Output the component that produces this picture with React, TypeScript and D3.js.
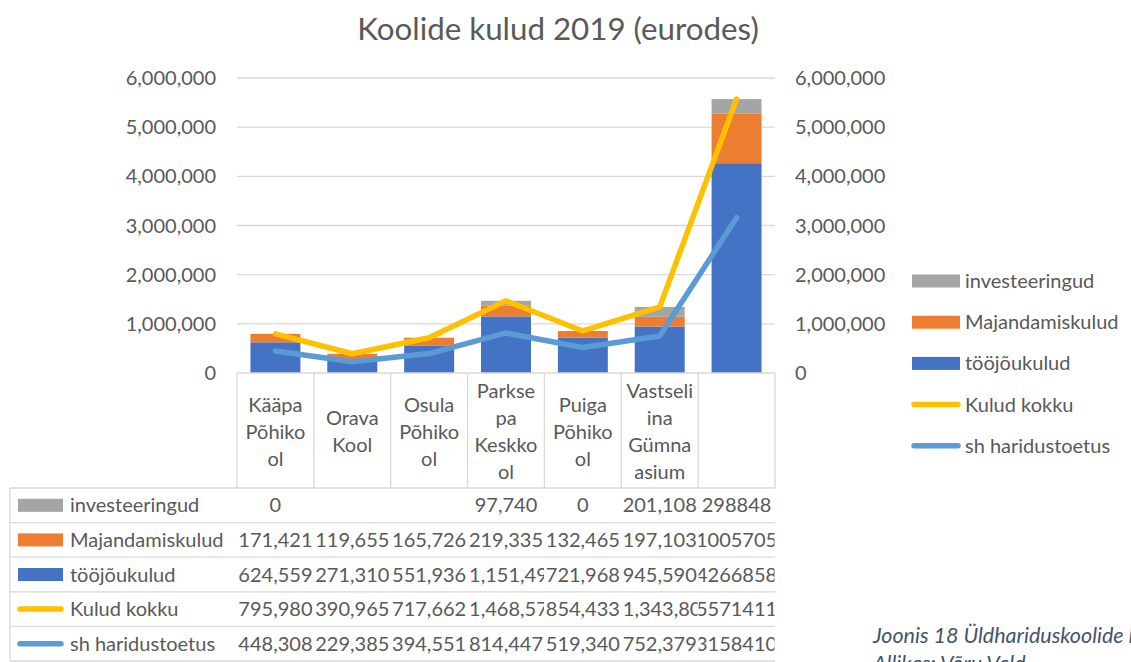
import React from 'react';
import * as d3 from 'd3';

const title = 'Koolide kulud 2019 (eurodes)';
const categories: string[][] = [
  ['Kääpa', 'Põhiko', 'ol'],
  ['Orava', 'Kool'],
  ['Osula', 'Põhiko', 'ol'],
  ['Parkse', 'pa', 'Keskko', 'ol'],
  ['Puiga', 'Põhiko', 'ol'],
  ['Vastseli', 'ina', 'Gümna', 'asium'],
  [],
];
const investeeringud: (number | null)[] = [0, null, null, 97740, 0, 201108, 298848];
const majandamiskulud: (number | null)[] = [171421, 119655, 165726, 219335, 132465, 197103, 1005705];
const toojoukulud: (number | null)[] = [624559, 271310, 551936, 1151490, 721968, 945590, 4266858];
const kuludKokku: (number | null)[] = [795980, 390965, 717662, 1468570, 854433, 1343800, 5571411];
const haridustoetus: (number | null)[] = [448308, 229385, 394551, 814447, 519340, 752379, 3158410];
const useThousandsSep = [true, true, true, true, true, true, false];
const yTicks = [0, 1000000, 2000000, 3000000, 4000000, 5000000, 6000000];
const captionLines = ['Joonis 18 Üldhariduskoolide kulud 2019', 'Allikas: Võru Vald'];

const series = [
  { name: 'investeeringud', values: investeeringud, color: '#a5a5a5', kind: 'bar' },
  { name: 'Majandamiskulud', values: majandamiskulud, color: '#ed7d31', kind: 'bar' },
  { name: 'tööjõukulud', values: toojoukulud, color: '#4472c4', kind: 'bar' },
  { name: 'Kulud kokku', values: kuludKokku, color: '#ffc000', kind: 'line' },
  { name: 'sh haridustoetus', values: haridustoetus, color: '#5b9bd5', kind: 'line' },
];

const W = 1131;
const H = 662;
const FONT = 'Lato, "Open Sans", sans-serif';
const TEXT = '#595959';
const GRID = '#d9d9d9';

export default function App() {
  const plotL = 237;
  const plotR = 775;
  const y0 = 373;
  const yTop = 78;
  const idx = categories.map((_, i) => i);
  const x = d3.scaleBand<number>().domain(idx).range([plotL, plotR]).padding(0);
  const y = d3.scaleLinear().domain([0, 6000000]).range([y0, yTop]);
  const step = x.bandwidth();
  const barW = step * 0.65;
  const cx = (i: number) => (x(i) as number) + step / 2;

  // stacked bars: bottom to top tööjõukulud, Majandamiskulud, investeeringud
  const stackOrder = [2, 1, 0];
  const stackKeys = stackOrder.map((k) => series[k].name);
  const rows = idx.map((i) => {
    const r: any = {};
    stackOrder.forEach((k) => (r[series[k].name] = series[k].values[i] ?? 0));
    return r;
  });
  const stacked = d3.stack<any>().keys(stackKeys)(rows);

  const lineGen = d3
    .line<number | null>()
    .defined((d) => d != null)
    .x((_, i) => cx(i))
    .y((d) => y(d as number));

  const fmtSep = d3.format(',');
  const fmt = (v: number | null, i: number) =>
    v == null ? '' : useThousandsSep[i] ? fmtSep(v) : String(v);

  // table geometry
  const tableL = 10;
  const headerBottom = 488;
  const rowH = 34.6;
  const tableRows = series.length;

  const legendX = 912;
  const legendY0 = 281;
  const legendStep = 41.2;

  return (
    <svg
      width={W}
      height={H}
      style={{ position: 'absolute', left: 0, top: 0, background: '#fff' }}
      fontFamily={FONT}
    >
      <defs>
        {idx.map((i) => (
          <clipPath key={i} id={`cell-clip-${i}`}>
            <rect x={(x(i) as number) + 0.5} y={headerBottom} width={step - 1} height={rowH * tableRows} />
          </clipPath>
        ))}
      </defs>
      <rect x={0} y={0} width={W} height={H} fill="#fff" />
      <text x={558} y={40} textAnchor="middle" fontSize={31.3} fill={TEXT}>
        {title}
      </text>

      {/* gridlines */}
      {yTicks.slice(1).map((t) => (
        <line key={t} x1={plotL} x2={plotR} y1={y(t)} y2={y(t)} stroke={GRID} strokeWidth={1.3} />
      ))}

      {/* left & right axis labels */}
      {yTicks.map((t) => (
        <g key={'l' + t}>
          <text x={216} y={y(t)} dy="0.35em" textAnchor="end" fontSize={20} fill={TEXT}>
            {fmtSep(t)}
          </text>
          <text x={795} y={y(t)} dy="0.35em" textAnchor="start" fontSize={20} fill={TEXT}>
            {fmtSep(t)}
          </text>
        </g>
      ))}

      {/* bars */}
      {stacked.map((layer, li) => {
        const s = series[stackOrder[li]];
        return (
          <g key={s.name} fill={s.color}>
            {layer.map((d, i) =>
              d[1] - d[0] > 0 ? (
                <rect key={i} x={cx(i) - barW / 2} width={barW} y={y(d[1])} height={y(d[0]) - y(d[1])} />
              ) : null
            )}
          </g>
        );
      })}

      {/* lines */}
      {series
        .filter((s) => s.kind === 'line')
        .map((s) => (
          <path
            key={s.name}
            d={lineGen(s.values) || ''}
            fill="none"
            stroke={s.color}
            strokeWidth={5.5}
            strokeLinecap="round"
            strokeLinejoin="round"
          />
        ))}

      {/* header (category) area */}
      <line x1={plotL} x2={plotR} y1={y0} y2={y0} stroke={GRID} strokeWidth={1.3} />
      {d3.range(categories.length + 1).map((k) => (
        <line
          key={'hv' + k}
          x1={plotL + k * step}
          x2={plotL + k * step}
          y1={y0}
          y2={headerBottom}
          stroke={GRID}
          strokeWidth={1.3}
        />
      ))}
      {categories.map((lines, i) => {
        const lh = 27;
        const mid = 431.5;
        const start = mid - ((lines.length - 1) * lh) / 2;
        return (
          <text key={'c' + i} textAnchor="middle" fontSize={20} fill={TEXT}>
            {lines.map((ln, j) => (
              <tspan key={j} x={cx(i)} y={start + j * lh} dy="0.35em">
                {ln}
              </tspan>
            ))}
          </text>
        );
      })}

      {/* data table */}
      {d3.range(tableRows + 1).map((r) => (
        <line
          key={'th' + r}
          x1={tableL}
          x2={plotR}
          y1={headerBottom + r * rowH}
          y2={headerBottom + r * rowH}
          stroke={GRID}
          strokeWidth={1.3}
        />
      ))}
      <line x1={tableL} x2={tableL} y1={headerBottom} y2={headerBottom + tableRows * rowH} stroke={GRID} strokeWidth={1.3} />
      {series.map((s, r) => {
        const cy = headerBottom + r * rowH + rowH / 2;
        return (
          <g key={'row' + s.name}>
            {s.kind === 'bar' ? (
              <rect x={18} y={cy - 6.5} width={45} height={13} fill={s.color} />
            ) : (
              <line x1={20} x2={61} y1={cy} y2={cy} stroke={s.color} strokeWidth={5.5} strokeLinecap="round" />
            )}
            <text x={70} y={cy} dy="0.35em" fontSize={20} fill={TEXT}>
              {s.name}
            </text>
            {s.values.map((v, i) => {
              const txt = fmt(v, i);
              const long = txt.length > 7;
              return (
                <text
                  key={i}
                  clipPath={`url(#cell-clip-${i})`}
                  x={long ? (x(i) as number) + 1.5 : cx(i)}
                  y={cy}
                  dy="0.35em"
                  textAnchor={long ? 'start' : 'middle'}
                  fontSize={20}
                  fill={TEXT}
                >
                  {txt}
                </text>
              );
            })}
          </g>
        );
      })}

      {/* right legend */}
      {series.map((s, k) => {
        const cy = legendY0 + k * legendStep;
        return (
          <g key={'lg' + s.name}>
            {s.kind === 'bar' ? (
              <rect x={legendX} y={cy - 6.5} width={48} height={13} fill={s.color} />
            ) : (
              <line x1={legendX + 2} x2={legendX + 46} y1={cy} y2={cy} stroke={s.color} strokeWidth={5.5} strokeLinecap="round" />
            )}
            <text x={legendX + 53} y={cy} dy="0.35em" fontSize={20} fill={TEXT}>
              {s.name}
            </text>
          </g>
        );
      })}

      {/* caption */}
      {captionLines.map((c, k) => (
        <text key={'cap' + k} x={873} y={643 + k * 28} fontSize={21.5} fontStyle="italic" fill="#44546a">
          {c}
        </text>
      ))}
    </svg>
  );
}
